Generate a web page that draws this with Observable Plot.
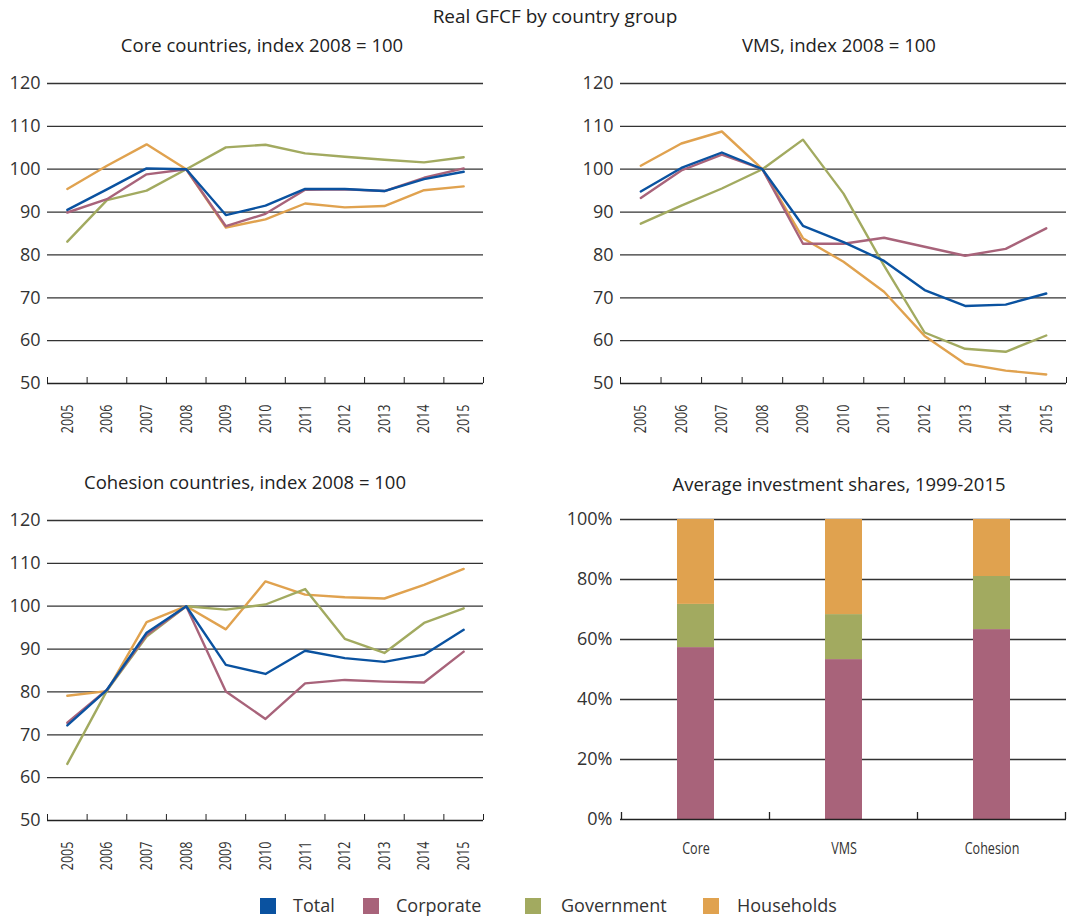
<!DOCTYPE html>
<html><head><meta charset="utf-8">
<script src="https://cdn.jsdelivr.net/npm/d3@7"></script>
<script src="https://cdn.jsdelivr.net/npm/@observablehq/plot@0.6"></script>
<style>
body{margin:0;background:#fff;}
#page{position:relative;width:1068px;height:917px;font-family:"Open Sans","Noto Sans",sans-serif;color:#222;overflow:hidden;}
.t{position:absolute;white-space:nowrap;transform:translateX(-50%);line-height:1;}
.panel{position:absolute;}
.leg{position:absolute;top:896px;font-size:18px;line-height:18px;color:#333;white-space:nowrap;}
.sw{position:absolute;width:16px;height:16px;top:898px;}
</style></head><body><div id="page"></div>
<script>
const years = [2005, 2006, 2007, 2008, 2009, 2010, 2011, 2012, 2013, 2014, 2015];
const seriesNames = ["Total", "Corporate", "Government", "Households"];
const seriesColors = ["#0a52a0", "#a8637a", "#a2aa60", "#e0a24f"];
const yTicks = [50, 60, 70, 80, 90, 100, 110, 120];

// Core countries
const coreTotal      = [90.5, 95.3, 100.2, 100, 89.3, 91.5, 95.4, 95.4, 94.9, 97.7, 99.4];
const coreCorporate  = [89.9, 93.0, 98.8, 100, 86.7, 89.6, 95.2, 95.3, 94.9, 98.0, 100.2];
const coreGovernment = [83.1, 92.8, 95.0, 100, 105.1, 105.7, 103.7, 102.9, 102.2, 101.6, 102.8];
const coreHouseholds = [95.4, 100.8, 105.8, 100, 86.4, 88.3, 92.0, 91.1, 91.4, 95.1, 96.0];
// VMS
const vmsTotal      = [94.8, 100.3, 103.9, 100, 86.8, 83.0, 78.6, 71.8, 68.1, 68.4, 71.0];
const vmsCorporate  = [93.3, 99.7, 103.4, 100, 82.6, 82.6, 84.0, 81.9, 79.8, 81.4, 86.2];
const vmsGovernment = [87.3, 91.5, 95.5, 100, 106.9, 94.3, 77.5, 61.9, 58.1, 57.4, 61.2];
const vmsHouseholds = [100.8, 106.0, 108.8, 100, 83.9, 78.4, 71.4, 61.1, 54.6, 53.0, 52.1];
// Cohesion countries
const cohTotal      = [72.2, 80.5, 93.8, 100, 86.3, 84.2, 89.6, 87.9, 87.0, 88.7, 94.5];
const cohCorporate  = [72.8, 80.5, 93.3, 100, 80.1, 73.7, 82.0, 82.8, 82.4, 82.2, 89.4];
const cohGovernment = [63.2, 80.3, 92.9, 100, 99.2, 100.4, 104.0, 92.4, 89.1, 96.1, 99.5];
const cohHouseholds = [79.1, 80.2, 96.3, 100, 94.6, 105.8, 102.7, 102.1, 101.8, 105.0, 108.7];
// Average investment shares, 1999-2015 (%)
const barGroups = ["Core", "VMS", "Cohesion"];
const barCorporate  = [57.3, 53.3, 63.3];
const barGovernment = [14.4, 15.0, 17.7];
const barHouseholds = [28.3, 31.7, 19.0];

const page = document.getElementById("page");
const FONT = '"Open Sans","Noto Sans",sans-serif';

function addText(txt, cx, top, size) {
  const d = document.createElement("div");
  d.className = "t"; d.textContent = txt;
  d.style.left = cx + "px"; d.style.top = top + "px"; d.style.fontSize = size + "px";
  page.appendChild(d);
}

// condense tick label text horizontally (in its own writing direction)
function condense(chart, label, k) {
  d3.select(chart).selectAll(`g[aria-label="${label}"] text`).each(function () {
    const t = this.getAttribute("transform") || "";
    this.setAttribute("transform", t + ` scale(${k},1)`);
  });
}

function linePanel(arrs, left, top, marginLeft, marginRight) {
  const rows = [];
  // draw order: Households, Government, Corporate, Total (Total on top)
  [3, 2, 1, 0].forEach(s => arrs[s].forEach((v, i) => rows.push({year: years[i], value: v, series: seriesNames[s]})));
  const boundaries = years.map(y => y - 0.5).concat([years[years.length - 1] + 0.5]);
  const chart = Plot.plot({
    width: 534, height: 383,
    marginLeft, marginRight, marginTop: 23, marginBottom: 60,
    style: {fontFamily: FONT, fontSize: "18px", color: "#333", background: "transparent", overflow: "visible"},
    x: {type: "linear", domain: [boundaries[0], boundaries[boundaries.length - 1]]},
    y: {domain: [50, 120]},
    color: {domain: seriesNames, range: seriesColors},
    marks: [
      Plot.ruleY(yTicks.slice(1), {stroke: "#333", strokeWidth: 1.3}),
      Plot.axisY({ticks: yTicks, tickSize: 0, tickPadding: 7, label: null, fontSize: 18, fill: "#333"}),
      Plot.axisX({ticks: boundaries, tickSize: 6, dy: -6, tickFormat: () => "", label: null, stroke: "#222"}),
      Plot.axisX({ticks: years, tickSize: 0, tickRotate: -90, tickPadding: 21, tickFormat: d => String(d), label: null, fontSize: 17, fill: "#333"}),
      Plot.ruleY([50], {stroke: "#222", strokeWidth: 1.5}),
      Plot.line(rows, {x: "year", y: "value", z: "series", stroke: "series", strokeWidth: 2.4, strokeLinejoin: "round"})
    ]
  });
  condense(chart, "x-axis tick label", 0.74);
  chart.classList.add("panel");
  chart.style.left = left + "px"; chart.style.top = top + "px";
  page.appendChild(chart);
}

function barPanel(left, top, marginLeft, marginRight) {
  const rows = [];
  const parts = [["Corporate", barCorporate], ["Government", barGovernment], ["Households", barHouseholds]];
  parts.forEach(([name, arr]) => arr.forEach((v, i) => rows.push({group: barGroups[i], value: v, series: name})));
  const chart = Plot.plot({
    width: 534, height: 383,
    marginLeft, marginRight, marginTop: 22, marginBottom: 61,
    style: {fontFamily: FONT, fontSize: "18px", color: "#333", background: "transparent", overflow: "visible"},
    x: {type: "band", domain: barGroups, paddingInner: 0.75, paddingOuter: 0.375},
    y: {domain: [0, 100]},
    color: {domain: seriesNames, range: seriesColors},
    marks: [
      Plot.ruleY([20, 40, 60, 80, 100], {stroke: "#333", strokeWidth: 1.3}),
      Plot.axisY({ticks: [0, 20, 40, 60, 80, 100], tickSize: 0, tickPadding: 8, tickFormat: d => d + "%", label: null, fontSize: 18, fill: "#333"}),
      Plot.axisX({tickSize: 0, tickPadding: 22, label: null, fontSize: 17, fill: "#333"}),
      Plot.barY(rows, {x: "group", y: "value", fill: "series"}),
      Plot.ruleY([0], {stroke: "#222", strokeWidth: 1.5})
    ]
  });
  condense(chart, "x-axis tick label", 0.74);
  // boundary tick marks between category bands, placed through the x scale
  const xs = chart.scale("x");
  const ys = chart.scale("y");
  const y0 = ys.apply(0);
  const off = (xs.step - xs.bandwidth) / 2;
  const bounds = barGroups.map(g => xs.apply(g) - off).concat([xs.apply(barGroups[barGroups.length - 1]) - off + xs.step]);
  const g = d3.select(chart).append("g").attr("stroke", "#222").attr("stroke-width", 1.3);
  bounds.forEach(b => g.append("line").attr("x1", b).attr("x2", b).attr("y1", y0 - 7).attr("y2", y0));
  chart.classList.add("panel");
  chart.style.left = left + "px"; chart.style.top = top + "px";
  page.appendChild(chart);
}

addText("Real GFCF by country group", 555, 7, 19);
addText("Core countries, index 2008 = 100", 262, 36, 18.5);
addText("VMS, index 2008 = 100", 839, 36, 18.5);
addText("Cohesion countries, index 2008 = 100", 245, 473, 18.5);
addText("Average investment shares, 1999-2015", 839, 475, 18.5);

linePanel([coreTotal, coreCorporate, coreGovernment, coreHouseholds], 0, 60, 47, 51);
linePanel([vmsTotal, vmsCorporate, vmsGovernment, vmsHouseholds], 534, 60, 86, 2);
linePanel([cohTotal, cohCorporate, cohGovernment, cohHouseholds], 0, 497, 47, 51);
barPanel(534, 497, 86, 2);

const legX = [[260, 293], [363, 396], [525, 561], [703, 737]];
seriesNames.forEach((n, i) => {
  const s = document.createElement("div");
  s.className = "sw"; s.style.left = legX[i][0] + "px"; s.style.background = seriesColors[i];
  page.appendChild(s);
  const t = document.createElement("div");
  t.className = "leg"; t.style.left = legX[i][1] + "px"; t.textContent = n;
  page.appendChild(t);
});
</script></body></html>
